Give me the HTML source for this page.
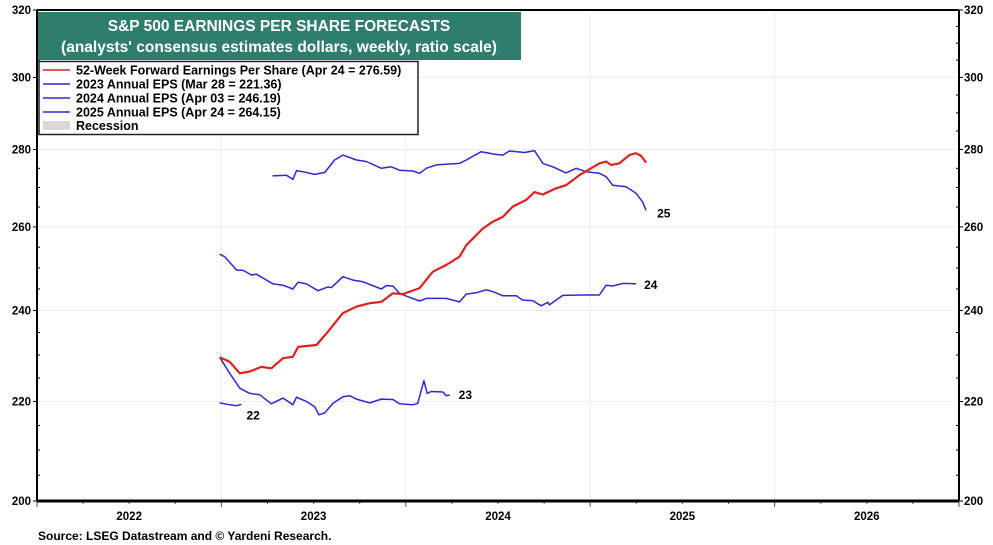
<!DOCTYPE html>
<html><head><meta charset="utf-8"><style>
body{margin:0;background:#fff;}
svg{display:block;font-family:"Liberation Sans",Arial,sans-serif;}
</style></head><body>
<svg id="chart" width="993" height="545" viewBox="0 0 993 545" xmlns="http://www.w3.org/2000/svg">
<g id="grid"></g>
<g id="axes"></g>
<g id="series"></g>
<rect x="38" y="12" width="483" height="48" fill="#2f7d6d"/>
<text x="279" y="31" text-anchor="middle" fill="#fff" font-size="15.5" font-weight="bold">S&amp;P 500 EARNINGS PER SHARE FORECASTS</text>
<text x="279" y="52" text-anchor="middle" fill="#fff" font-size="15.5" font-weight="bold">(analysts' consensus estimates dollars, weekly, ratio scale)</text>
<g>
<rect x="39" y="61.5" width="379" height="73" fill="#fff" stroke="#222" stroke-width="1.5"/>
<line x1="43" y1="70" x2="70" y2="70" stroke="#e02020" stroke-width="1.5"/>
<text x="76" y="74.5" font-size="12.5" font-weight="bold">52-Week Forward Earnings Per Share (Apr 24 = 276.59)</text>
<line x1="43" y1="84" x2="70" y2="84" stroke="#2a2ad8" stroke-width="1.5"/>
<text x="76" y="88.5" font-size="12.5" font-weight="bold">2023 Annual EPS (Mar 28 = 221.36)</text>
<line x1="43" y1="98" x2="70" y2="98" stroke="#2a2ad8" stroke-width="1.5"/>
<text x="76" y="102.5" font-size="12.5" font-weight="bold">2024 Annual EPS (Apr 03 = 246.19)</text>
<line x1="43" y1="112" x2="70" y2="112" stroke="#2a2ad8" stroke-width="1.5"/>
<text x="76" y="116.5" font-size="12.5" font-weight="bold">2025 Annual EPS (Apr 24 = 264.15)</text>
<rect x="43" y="121" width="27" height="9" fill="#d8d8d8"/>
<text x="76" y="130" font-size="12.5" font-weight="bold">Recession</text>
</g>
<text x="38" y="540" font-size="12" font-weight="bold">Source: LSEG Datastream and © Yardeni Research.</text>
</svg>
<script>
const yTicks=[200,220,240,260,280,300,320];
const yearLabels=[2022,2023,2024,2025,2026];
const fwdDates=[2022.991,2023.045,2023.100,2023.154,2023.217,2023.271,2023.334,2023.388,2023.416,2023.515,2023.578,2023.659,2023.732,2023.804,2023.867,2023.930,2023.984,2024.075,2024.147,2024.219,2024.291,2024.328,2024.418,2024.472,2024.526,2024.580,2024.653,2024.698,2024.743,2024.815,2024.869,2024.941,2025.050,2025.086,2025.113,2025.158,2025.212,2025.249,2025.276,2025.303];
const fwdValues=[229.5,228.5,226.0,226.4,227.4,227.1,229.3,229.6,231.8,232.2,235.2,239.4,240.9,241.7,242.0,244.0,243.8,245.2,249.1,250.7,252.7,255.5,259.6,261.3,262.5,265.1,266.8,268.8,268.2,269.8,270.6,273.2,276.3,276.8,275.9,276.3,278.5,279.0,278.3,276.5];
const eps2022Dates=[2022.991,2023.045,2023.082,2023.109];
const eps2022Values=[219.7,219.3,219.1,219.4];
const eps2023Dates=[2022.991,2023.045,2023.100,2023.154,2023.208,2023.271,2023.334,2023.388,2023.407,2023.461,2023.506,2023.529,2023.560,2023.605,2023.659,2023.695,2023.732,2023.804,2023.867,2023.930,2023.966,2024.038,2024.065,2024.084,2024.098,2024.116,2024.138,2024.201,2024.219,2024.238];
const eps2023Values=[229.5,226.0,222.8,221.7,221.4,219.5,220.7,219.3,220.9,220.0,218.9,217.2,217.6,219.6,221.0,221.2,220.5,219.7,220.5,220.4,219.5,219.3,219.6,222.4,224.4,221.7,222.1,222.0,221.2,221.36];
const eps2024Dates=[2022.991,2023.018,2023.082,2023.118,2023.163,2023.190,2023.280,2023.334,2023.388,2023.416,2023.461,2023.524,2023.578,2023.596,2023.659,2023.713,2023.768,2023.867,2023.894,2023.930,2023.966,2024.011,2024.075,2024.111,2024.219,2024.291,2024.328,2024.382,2024.436,2024.472,2024.526,2024.599,2024.634,2024.688,2024.734,2024.770,2024.779,2024.851,2024.959,2025.050,2025.086,2025.122,2025.176,2025.212,2025.249];
const eps2024Values=[253.3,252.7,249.5,249.4,248.3,248.5,246.2,245.9,245.0,246.6,246.2,244.6,245.5,245.3,247.9,247.1,246.7,245.0,245.8,245.7,244.0,243.2,242.2,242.8,242.8,242.0,243.8,244.1,244.8,244.4,243.4,243.4,242.4,242.3,241.1,241.9,241.3,243.5,243.6,243.6,245.9,245.7,246.3,246.3,246.19];
const eps2025Dates=[2023.277,2023.353,2023.388,2023.407,2023.443,2023.506,2023.560,2023.614,2023.659,2023.732,2023.786,2023.867,2023.921,2023.966,2024.038,2024.075,2024.111,2024.165,2024.291,2024.328,2024.409,2024.454,2024.472,2024.526,2024.562,2024.644,2024.698,2024.743,2024.797,2024.869,2024.924,2024.978,2025.050,2025.086,2025.122,2025.194,2025.249,2025.284,2025.303];
const eps2025Values=[273.0,273.2,272.1,274.4,274.1,273.4,273.9,277.2,278.5,277.2,276.8,275.0,275.4,274.5,274.3,273.7,275.0,275.9,276.3,277.2,279.4,279.0,278.8,278.5,279.6,279.2,279.7,276.3,275.4,273.8,275.0,274.1,273.7,272.8,270.6,270.2,268.5,266.3,264.15];

const L=37,R=959,T=10,B=501,Y0=200,Y1=320,X0=2022,X1=2027;
const NS='http://www.w3.org/2000/svg';
function xs(t){return L+(t-X0)/(X1-X0)*(R-L);}
function ys(v){return B-Math.log(v/Y0)/Math.log(Y1/Y0)*(B-T);}
function mk(tag,attrs,parent){const e=document.createElementNS(NS,tag);for(const k in attrs)e.setAttribute(k,attrs[k]);parent.appendChild(e);return e;}
const grid=document.getElementById('grid'),axes=document.getElementById('axes'),series=document.getElementById('series');
// horizontal gridlines + labels
yTicks.forEach(v=>{
  const y=ys(v);
  if(v>Y0&&v<Y1){const g=mk('line',{x1:L,x2:R,y1:y,y2:y,stroke:'#ececf4','stroke-width':1},grid);
  
  }
  const t1=mk('text',{x:31,y:y+4,'text-anchor':'end','font-size':11.5,'font-weight':'bold'},axes);t1.textContent=v;
  
  
  const t2=mk('text',{x:964,y:y+4,'text-anchor':'start','font-size':11.5,'font-weight':'bold'},axes);t2.textContent=v;
  
  
  mk('line',{x1:L-4,x2:L,y1:y,y2:y,stroke:'#000'},axes);
  mk('line',{x1:R,x2:R+4,y1:y,y2:y,stroke:'#000'},axes);
});
// minor y ticks
for(let v=205;v<320;v+=5){if(v%20===0)continue;const y=ys(v);mk('line',{x1:L,x2:L+3,y1:y,y2:y,stroke:'#000'},axes);mk('line',{x1:R-3,x2:R,y1:y,y2:y,stroke:'#000'},axes);}
// vertical year gridlines, ticks, labels
for(let yr=X0;yr<=X1;yr++){
  const x=xs(yr);
  if(yr>X0&&yr<X1){const g=mk('line',{x1:x,x2:x,y1:T,y2:B,stroke:'#ececf4','stroke-width':1},grid);
  
  }
  mk('line',{x1:x,x2:x,y1:B,y2:B+6,stroke:'#555'},axes);
  for(let q=1;q<4;q++){const xq=xs(yr+q/4);if(yr<X1)mk('line',{x1:xq,x2:xq,y1:B,y2:B+3,stroke:'#555'},axes);}
}
yearLabels.forEach(yr=>{const t=mk('text',{x:xs(yr+0.5),y:520,'text-anchor':'middle','font-size':11.5,'font-weight':'bold'},axes);t.textContent=yr;
  
  });
// frame
mk('line',{x1:L,x2:L,y1:T,y2:B,stroke:'#000','stroke-width':2},axes);
mk('line',{x1:R,x2:R,y1:T,y2:B,stroke:'#000','stroke-width':2},axes);
mk('line',{x1:L,x2:R,y1:T,y2:T,stroke:'#000','stroke-width':2},axes);
mk('line',{x1:L,x2:R,y1:B,y2:B,stroke:'#000','stroke-width':3},axes);
function line(dates,vals,color,w,name){
  const d=dates.map((t,i)=>(i?'L':'M')+xs(t).toFixed(1)+','+ys(vals[i]).toFixed(1)).join(' ');
  const p=mk('path',{d:d,fill:'none',stroke:color,'stroke-width':w,'stroke-linejoin':'round'},series);
  
  
}
line(eps2022Dates,eps2022Values,'#2a2ad8',1.5,'eps-2022-line');
line(eps2023Dates,eps2023Values,'#2a2ad8',1.5,'eps-2023-line');
line(eps2024Dates,eps2024Values,'#2a2ad8',1.5,'eps-2024-line');
line(eps2025Dates,eps2025Values,'#2a2ad8',1.5,'eps-2025-line');
line(fwdDates,fwdValues,'#e02020',2.2,'forward-eps-line');
function lab(txt,dates,vals,dx,dy,name){const n=dates.length-1;const t=mk('text',{x:xs(dates[n])+dx,y:ys(vals[n])+dy,'font-size':12,'font-weight':'bold'},series);t.textContent=txt;
  
  }
lab('22',eps2022Dates,eps2022Values,5,15,'label-22');
lab('23',eps2023Dates,eps2023Values,9,4,'label-23');
lab('24',eps2024Dates,eps2024Values,8,5,'label-24');
lab('25',eps2025Dates,eps2025Values,11,7,'label-25');
</script>
</body></html>
